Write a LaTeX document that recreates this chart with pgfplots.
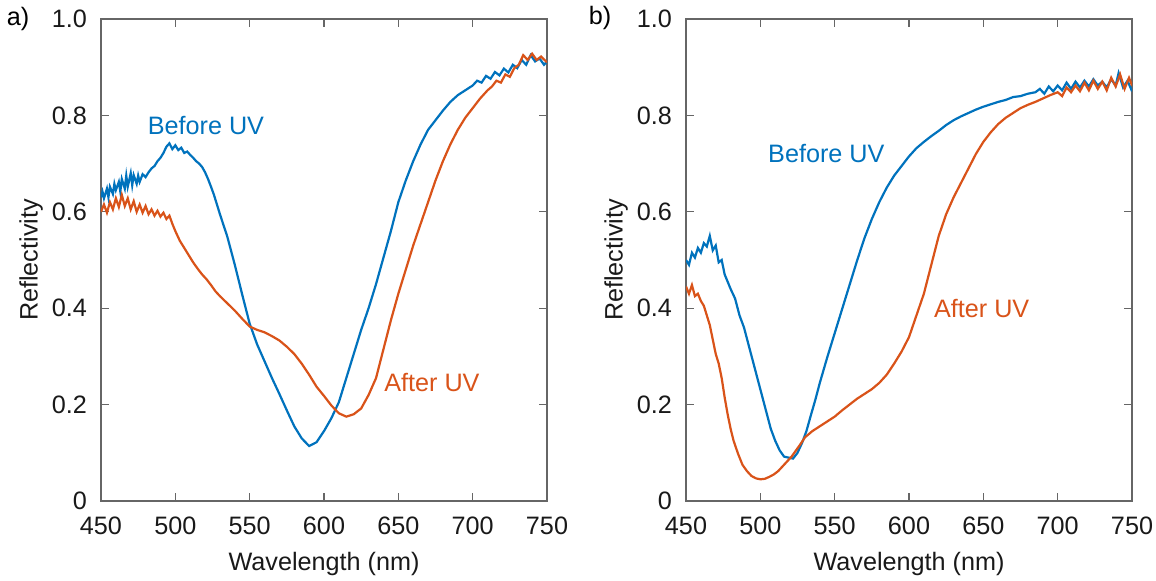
\documentclass[border=0pt]{standalone}
\usepackage{fontspec}
\setmainfont{Liberation Sans}
\usepackage{pgfplots}
\pgfplotsset{compat=1.18}
\definecolor{cblue}{RGB}{0,114,189}
\definecolor{corange}{RGB}{217,83,25}
\newcommand\fnt{\fontsize{12.6}{15}\selectfont}
\pgfplotsset{
  refl/.style={
    scale only axis, width=223pt, height=241pt,
    xmin=450,xmax=750,ymin=0,ymax=1,
    xtick={450,500,...,750}, ytick={0,0.2,0.4,0.6,0.8,1.0},
    yticklabels={0,0.2,0.4,0.6,0.8,1.0},
    tick align=inside, major tick length=4pt,
    axis line style={black!60, line width=0.7pt},
    every tick/.style={black!60, line width=0.6pt},
    /pgf/number format/assume math mode=true,
    /pgf/number format/1000 sep={},
    tick label style={font=\fnt, text=black!90},
    xticklabel style={yshift=-4.3pt},
    yticklabel style={xshift=-3.5pt},
    xlabel={Wavelength (nm)}, ylabel={Reflectivity},
    xlabel style={at={(axis description cs:0.5,-0.0913)}, anchor=north, font=\fnt, text=black!90},
    ylabel style={at={(axis description cs:-0.1143,0.5)}, anchor=south, font=\fnt, text=black!90},
  }
}
\begin{document}
\begin{tikzpicture}[font=\fnt]
\useasboundingbox (-50.5pt,-40pt) rectangle (527.5pt,250.5pt);
\begin{axis}[refl, at={(0pt,0pt)}, anchor=south west]
\addplot[cblue, line width=1.1pt] coordinates {
(450,0.630)(451,0.642)(452,0.628)(454,0.648)(455,0.630)(456,0.652)(458,0.637)(459,0.658)(460,0.645)(462,0.662)(463,0.642)(464,0.668)(466,0.648)(467,0.675)(468,0.652)(470,0.680)(471,0.655)(472,0.676)(474,0.658)(475,0.675)(476,0.662)(478,0.678)(480,0.672)(482,0.682)(484,0.690)(486,0.695)(488,0.705)(490,0.712)(492,0.722)(494,0.735)(496,0.742)(498,0.730)(500,0.738)(502,0.728)(504,0.733)(506,0.722)(508,0.725)(510,0.718)(512,0.712)(514,0.705)(516,0.700)(518,0.693)(520,0.682)(522,0.668)(524,0.652)(526,0.635)(528,0.615)(530,0.595)(535,0.548)(540,0.490)(545,0.428)(550,0.368)(555,0.325)(560,0.290)(565,0.255)(570,0.222)(575,0.188)(580,0.155)(585,0.130)(590,0.114)(595,0.122)(600,0.145)(605,0.172)(610,0.205)(615,0.255)(620,0.305)(625,0.355)(630,0.400)(635,0.450)(640,0.505)(645,0.560)(650,0.620)(655,0.665)(660,0.705)(665,0.740)(670,0.770)(675,0.790)(680,0.810)(685,0.828)(690,0.842)(695,0.852)(700,0.862)(703,0.872)(706,0.868)(709,0.882)(712,0.876)(715,0.890)(718,0.883)(721,0.897)(724,0.889)(727,0.905)(730,0.898)(733,0.915)(736,0.905)(739,0.925)(742,0.912)(745,0.918)(748,0.905)(750,0.912)
};
\addplot[corange, line width=1.1pt] coordinates {
(450,0.600)(452,0.615)(454,0.598)(456,0.620)(458,0.605)(460,0.628)(462,0.610)(464,0.635)(466,0.612)(468,0.628)(470,0.605)(472,0.622)(474,0.600)(476,0.615)(478,0.598)(480,0.612)(482,0.595)(484,0.605)(486,0.592)(488,0.602)(490,0.590)(492,0.598)(494,0.585)(496,0.592)(498,0.575)(500,0.560)(503,0.540)(506,0.525)(509,0.510)(512,0.495)(515,0.482)(518,0.470)(521,0.460)(524,0.448)(527,0.435)(530,0.425)(535,0.410)(540,0.395)(545,0.378)(550,0.362)(555,0.355)(560,0.350)(565,0.342)(570,0.333)(575,0.320)(580,0.305)(585,0.285)(590,0.262)(595,0.237)(600,0.218)(605,0.198)(610,0.182)(615,0.175)(620,0.180)(625,0.192)(630,0.220)(635,0.255)(640,0.315)(645,0.375)(650,0.430)(655,0.480)(660,0.530)(665,0.575)(670,0.620)(675,0.665)(680,0.705)(685,0.740)(690,0.770)(695,0.795)(700,0.815)(705,0.835)(710,0.852)(713,0.860)(716,0.872)(719,0.868)(722,0.885)(725,0.880)(728,0.898)(731,0.905)(734,0.925)(737,0.915)(740,0.928)(743,0.915)(746,0.922)(750,0.910)
};
\node[cblue] at (axis cs:520.6,0.778) {Before UV};
\node[corange] at (axis cs:672.6,0.245) {After UV};
\end{axis}
\begin{axis}[refl, at={(292.5pt,0pt)}, anchor=south west]
\addplot[cblue, line width=1.1pt] coordinates {
(450,0.500)(452,0.490)(454,0.515)(456,0.505)(458,0.525)(460,0.515)(462,0.535)(464,0.528)(466,0.550)(468,0.520)(470,0.530)(472,0.495)(474,0.500)(476,0.470)(478,0.455)(480,0.440)(483,0.420)(486,0.385)(489,0.360)(492,0.325)(495,0.290)(498,0.255)(501,0.220)(504,0.185)(507,0.150)(510,0.125)(513,0.105)(516,0.092)(519,0.090)(522,0.088)(525,0.100)(528,0.120)(531,0.145)(534,0.178)(537,0.210)(540,0.245)(545,0.298)(550,0.348)(555,0.398)(560,0.448)(565,0.498)(570,0.545)(575,0.585)(580,0.620)(585,0.650)(590,0.675)(595,0.695)(600,0.715)(605,0.732)(610,0.745)(615,0.757)(620,0.768)(625,0.780)(630,0.790)(635,0.798)(640,0.805)(645,0.812)(650,0.818)(655,0.823)(660,0.828)(665,0.832)(670,0.838)(675,0.840)(680,0.845)(685,0.848)(688,0.855)(691,0.845)(694,0.860)(697,0.850)(700,0.862)(703,0.852)(706,0.868)(709,0.855)(712,0.870)(715,0.858)(718,0.872)(721,0.860)(724,0.875)(727,0.862)(730,0.870)(733,0.858)(736,0.875)(739,0.862)(741,0.888)(744,0.858)(747,0.872)(750,0.850)
};
\addplot[corange, line width=1.1pt] coordinates {
(450,0.445)(452,0.430)(454,0.448)(456,0.425)(458,0.430)(460,0.415)(462,0.405)(464,0.385)(466,0.365)(468,0.335)(470,0.305)(472,0.285)(474,0.255)(476,0.215)(478,0.180)(480,0.150)(482,0.125)(485,0.098)(488,0.075)(491,0.062)(494,0.052)(497,0.047)(500,0.045)(503,0.046)(506,0.050)(509,0.055)(512,0.062)(515,0.072)(518,0.082)(521,0.092)(524,0.105)(527,0.118)(530,0.132)(535,0.145)(540,0.155)(545,0.165)(550,0.175)(555,0.188)(560,0.200)(565,0.212)(570,0.222)(575,0.232)(580,0.245)(585,0.262)(590,0.285)(595,0.310)(600,0.340)(605,0.385)(610,0.430)(615,0.490)(620,0.550)(625,0.595)(630,0.630)(635,0.660)(640,0.690)(645,0.720)(650,0.745)(655,0.765)(660,0.782)(665,0.795)(670,0.805)(675,0.815)(680,0.822)(685,0.828)(690,0.835)(695,0.842)(700,0.848)(703,0.840)(706,0.858)(709,0.848)(712,0.862)(715,0.850)(718,0.868)(721,0.852)(724,0.872)(727,0.855)(730,0.870)(733,0.852)(736,0.878)(739,0.860)(742,0.885)(745,0.855)(748,0.878)(750,0.862)
};
\node[cblue] at (axis cs:544.4,0.72) {Before UV};
\node[corange] at (axis cs:648.9,0.40) {After UV};
\end{axis}
\node at (-41.5pt,241pt) {a)};
\node at (249.5pt,241.5pt) {b)};
\end{tikzpicture}
\end{document}
